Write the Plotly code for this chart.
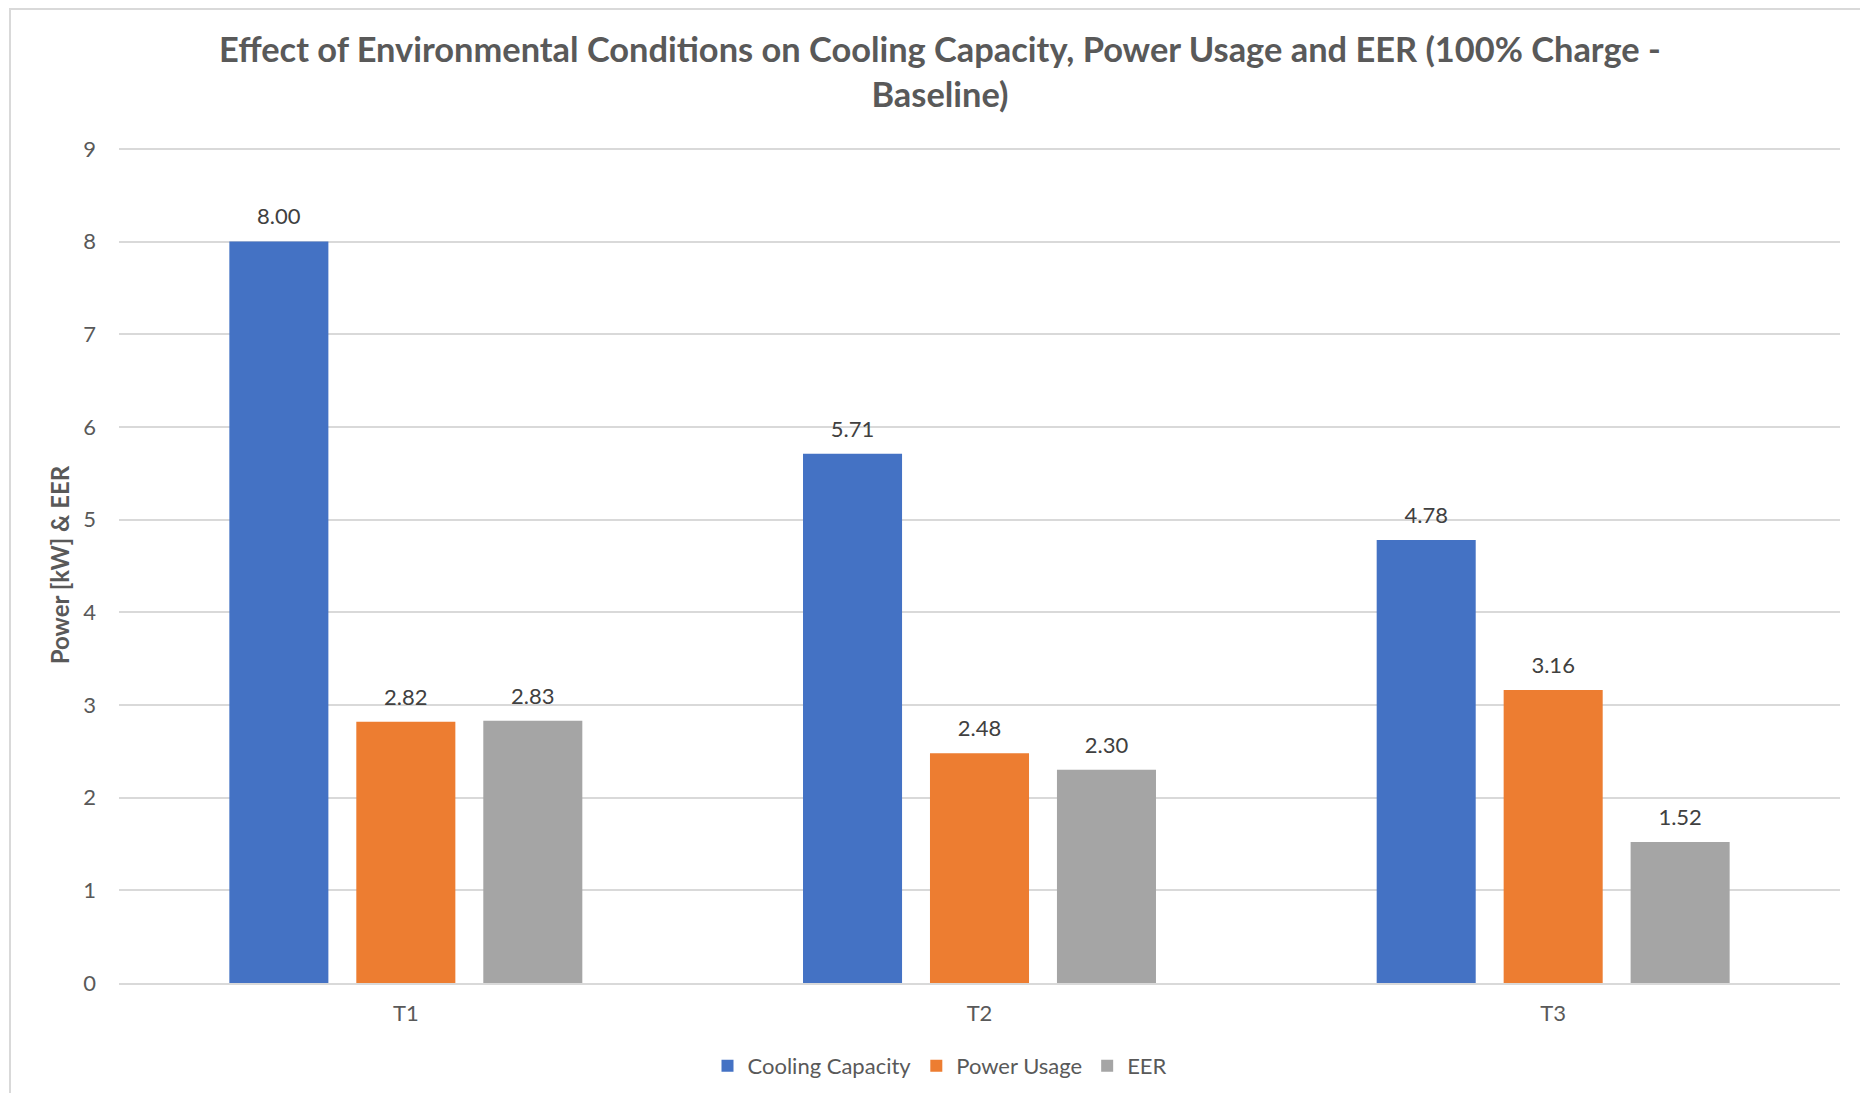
import plotly.graph_objects as go

categories = ["T1", "T2", "T3"]
cooling_capacity = [8.00, 5.71, 4.78]
power_usage = [2.82, 2.48, 3.16]
eer = [2.83, 2.30, 1.52]
series_names = ["Cooling Capacity", "Power Usage", "EER"]
series_colors = ["#4472C4", "#ED7D31", "#A5A5A5"]
y_ticks = [0, 1, 2, 3, 4, 5, 6, 7, 8, 9]

# figure is placed by the page with an 8px body margin
FW, FH = 1852, 1085
L, R, T, B = 111, 20, 139, 110
pw, ph = FW - L - R, FH - T - B
BARGAP = 0.336

FONT = "Lato, Carlito, 'Open Sans', sans-serif"

fig = go.Figure()
all_series = [cooling_capacity, power_usage, eer]
for i, (name, vals, col) in enumerate(zip(series_names, all_series, series_colors)):
    fig.add_trace(go.Bar(
        name=name, x=categories, y=vals, marker=dict(color=col, line=dict(width=0)),
        offsetgroup=str(i), hoverinfo="x+y+name",
    ))
for i, (name, vals) in enumerate(zip(series_names, all_series)):
    fig.add_trace(go.Scatter(
        x=categories, y=vals, mode="markers+text", showlegend=False,
        offsetgroup=str(i), hoverinfo="skip",
        marker=dict(size=17, opacity=0, color="white"),
        text=[f"{v:.2f}" for v in vals], textposition="top center",
        textfont=dict(family=FONT, size=22, color="#404040"),
        cliponaxis=False,
    ))

def px_x(p):
    return (p - L) / pw

def px_y(p):
    return (FH - B - p) / ph

fig.update_layout(
    width=FW, height=FH,
    margin=dict(l=L, r=R, t=T, b=B, autoexpand=False),
    paper_bgcolor="white", plot_bgcolor="white",
    barmode="group", bargap=BARGAP, bargroupgap=0.22,
    scattermode="group", scattergap=BARGAP,
    title=dict(
        text="Effect of Environmental Conditions on Cooling Capacity, Power Usage and EER (100% Charge -<br>Baseline)",
        x=932 / FW, xanchor="center", xref="container",
        y=1 - 54 / FH, yanchor="middle", yref="container",
        font=dict(family=FONT, size=34.4, color="#595959", weight="bold"),
    ),
    font=dict(family=FONT, color="#595959"),
    xaxis=dict(
        showline=True, linecolor="#D9D9D9", linewidth=1.5,
        tickfont=dict(family=FONT, size=22, color="#595959"),
        ticks="", showgrid=False, ticklabelstandoff=10,
    ),
    yaxis=dict(
        range=[0, 9.02], tickvals=y_ticks, showgrid=True, gridcolor="#D9D9D9", gridwidth=1.5,
        zeroline=False, showline=False, ticks="", ticklabelstandoff=22,
        tickfont=dict(family=FONT, size=22, color="#595959"),
        title=dict(text="Power [kW] & EER", standoff=6,
                   font=dict(family=FONT, size=24, color="#595959", weight="bold")),
    ),
    legend=dict(
        orientation="h", x=px_x(932), xanchor="center", y=px_y(1058), yanchor="middle",
        font=dict(family=FONT, size=22, color="#595959"), itemwidth=30,
        traceorder="normal",
    ),
    showlegend=True,
    shapes=[dict(type="rect", xref="paper", yref="paper",
                 x0=px_x(2), x1=px_x(FW + 10), y0=px_y(FH + 10), y1=px_y(1),
                 line=dict(color="#D9D9D9", width=2), layer="below")],
)

fig.write_html("out.html")
